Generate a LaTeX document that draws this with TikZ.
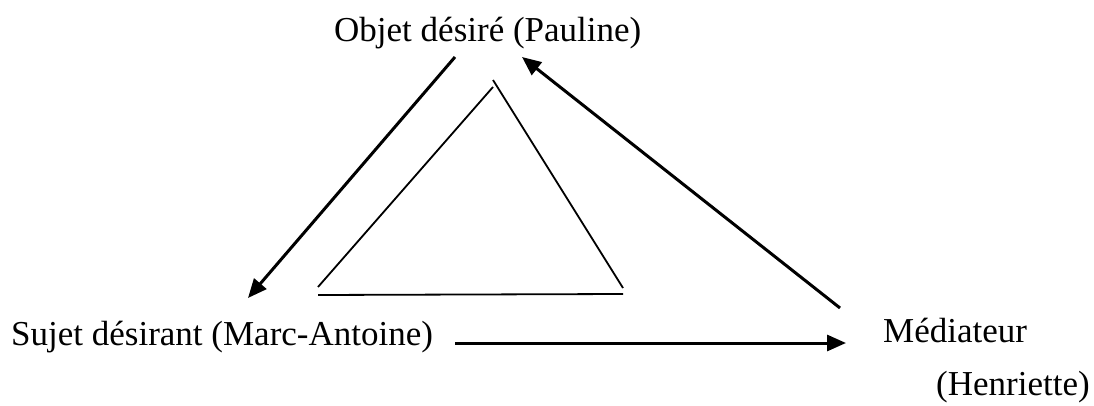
\documentclass[tikz,border=0pt]{standalone}
\usepackage{fontspec}
\setmainfont{Liberation Serif}
\usetikzlibrary{arrows.meta}
\begin{document}
\begin{tikzpicture}[x=1pt,y=-1pt,
  label/.style={inner sep=0pt,anchor=base west,font=\fontsize{35}{40}\selectfont},
  arr/.style={line width=3pt,-{Triangle[length=19pt,width=16pt]}},
  side/.style={line width=1.8pt}]
\useasboundingbox (0,0) rectangle (1094,406);
% labels
\node[label] (obj) at (334,42) {Objet désiré (Pauline)};
\node[label] (suj) at (11,345) {Sujet désirant (Marc-Antoine)};
\node[label] (med) at (883,342) {Médiateur};
\node[label] (hen) at (936,395) {(Henriette)};
% arrow end points
\coordinate (a1s) at (455,57);
\coordinate (a1e) at (248,298);
\coordinate (a2s) at (840,308);
\coordinate (a2e) at (522,57);
\coordinate (a3s) at (455,343);
\coordinate (a3e) at (846,343);
\draw[arr] (a1s) -- (a1e);
\draw[arr] (a2s) -- (a2e);
\draw[arr] (a3s) -- (a3e);
% inner triangle, three separate strokes
\coordinate (tl) at (318,287);
\coordinate (tt) at (493,87);
\coordinate (tt2) at (493,80);
\coordinate (tr) at (623,288);
\coordinate (bl) at (318,295);
\coordinate (br) at (623,294);
\draw[side] (tl) -- (tt);
\draw[side] (tt2) -- (tr);
\draw[side] (bl) -- (br);
\end{tikzpicture}
\end{document}
